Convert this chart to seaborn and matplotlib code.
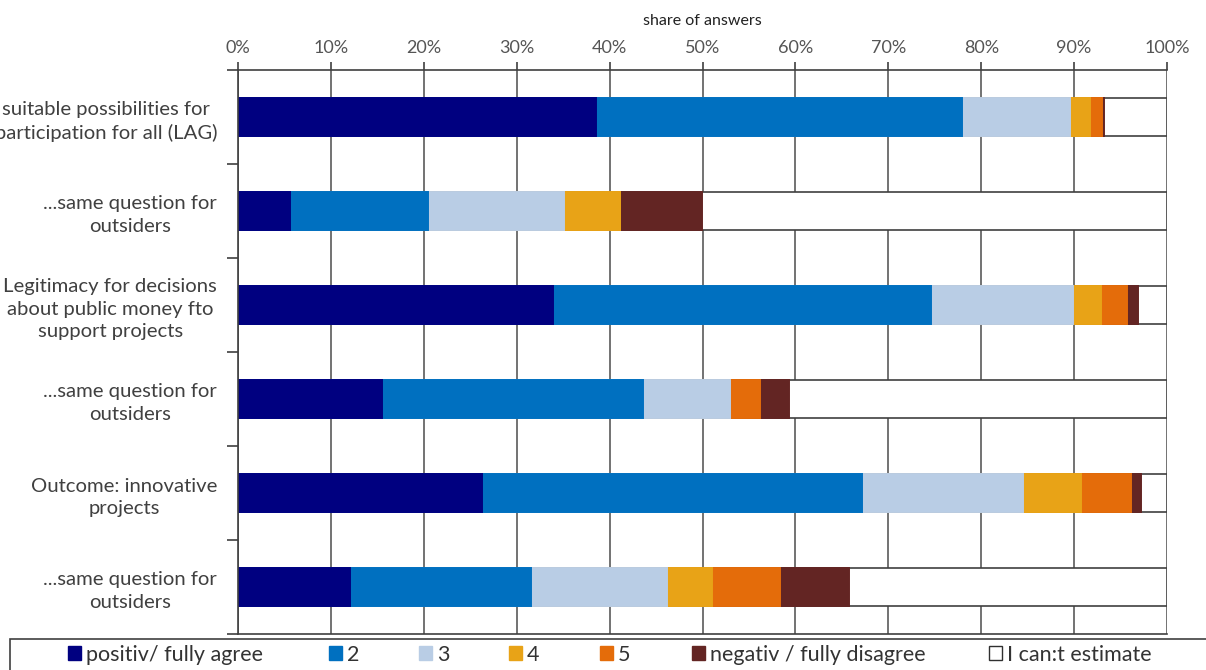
import matplotlib
matplotlib.use("Agg")
import matplotlib.pyplot as plt
import seaborn as sns
import numpy as np
from matplotlib.patches import Patch, Rectangle
from matplotlib.ticker import FixedLocator, PercentFormatter

sns.set_theme(style="white")
plt.rcParams['font.family'] = ['Lato', 'DejaVu Sans']

categories = [
    "suitable possibilities for\nparticipation for all (LAG)",
    "...same question for\noutsiders",
    "Legitimacy for decisions\nabout public money fto\nsupport projects",
    "...same question for\noutsiders",
    "Outcome: innovative\nprojects",
    "...same question for\noutsiders",
]
series_names = ["positiv/ fully agree", "2", "3", "4", "5",
                "negativ / fully disagree", "I can:t estimate"]
positive = [38.5, 5.6, 33.9, 15.5, 26.3, 12.1]
s2 = [39.4, 14.9, 40.7, 28.1, 40.9, 19.4]
s3 = [11.7, 14.6, 15.3, 9.4, 17.3, 14.7]
s4 = [2.1, 6.0, 3.0, 0.0, 6.2, 4.8]
s5 = [1.3, 0.0, 2.8, 3.2, 5.4, 7.3]
negative = [0.2, 8.8, 1.2, 3.1, 1.1, 7.5]
cant = [6.8, 50.1, 3.1, 40.7, 2.8, 34.2]
x_ticks = [0, 10, 20, 30, 40, 50, 60, 70, 80, 90, 100]

colors = ["#000080", "#0070C0", "#B9CDE5", "#E8A317", "#E46C0A", "#632523", "#FFFFFF"]
series = [positive, s2, s3, s4, s5, negative, cant]

fig = plt.figure(figsize=(12.06, 6.70), dpi=100)
ax = fig.add_axes([238/1206, 1 - 634/670, (1167-238)/1206, (634-70)/670])

pos = list(range(len(categories)))
cum = np.cumsum(np.array(series), axis=0)

# draw from the outermost cumulative layer to the innermost
for i in range(len(series) - 1, -1, -1):
    if i == len(series) - 1:
        ec, lw = "#404040", 1.2
    else:
        ec, lw = colors[i], 1.4
    sns.barplot(x=cum[i], y=pos, orient="h", color=colors[i], width=0.41,
                edgecolor=ec, linewidth=lw, saturation=1, errorbar=None, ax=ax)

ax.set_xlim(0, 100)
ax.set_ylim(len(categories) - 0.5, -0.5)
ax.xaxis.set_major_locator(FixedLocator(x_ticks))
ax.xaxis.set_major_formatter(PercentFormatter(decimals=0))
ax.xaxis.tick_top()
ax.xaxis.set_label_position("top")
ax.set_xlabel("share of answers", fontsize=11.5, color="#222222", labelpad=11)
ax.tick_params(axis="x", which="major", direction="out", length=6, width=1.2,
               color="#404040", labelsize=13, labelcolor="#555555", pad=4, top=True)

ax.set_yticks(pos)
ax.set_yticklabels(categories, fontsize=14.6, color="#404040",
                   multialignment="center", linespacing=1.38)
ax.tick_params(axis="y", which="major", length=0, pad=15)
ax.yaxis.set_minor_locator(FixedLocator(np.arange(-0.5, len(categories), 1.0)))
ax.tick_params(axis="y", which="minor", left=True, direction="out", length=8,
               width=1.2, color="#404040")
ax.set_ylabel("")

ax.grid(axis="x", color="#5a5a5a", linewidth=1.2)
ax.set_axisbelow(True)
for side in ["top", "left", "bottom"]:
    ax.spines[side].set_visible(True)
    ax.spines[side].set_color("#404040")
    ax.spines[side].set_linewidth(1.2)
ax.spines["right"].set_visible(False)

# legend frame
fig.patches.append(Rectangle((10/1206, -0.1), 1.2, 0.1 + (670-639)/670,
                             transform=fig.transFigure, fill=False,
                             edgecolor="#404040", linewidth=1.2))
legend_x = [68, 329, 419, 509, 600, 692, 989]
for name, col, lx in zip(series_names, colors, legend_x):
    h = Patch(facecolor=col, edgecolor=("#303030" if col == "#FFFFFF" else col), linewidth=1)
    lg = fig.legend([h], [name], loc="center left", bbox_to_anchor=(lx/1206, 1 - 655/670),
                    frameon=False, fontsize=15.5, handlelength=0.62, handleheight=0.62,
                    handletextpad=0.2, borderpad=0, borderaxespad=0, labelcolor="#333333")

fig.savefig("out.png", dpi=100)
